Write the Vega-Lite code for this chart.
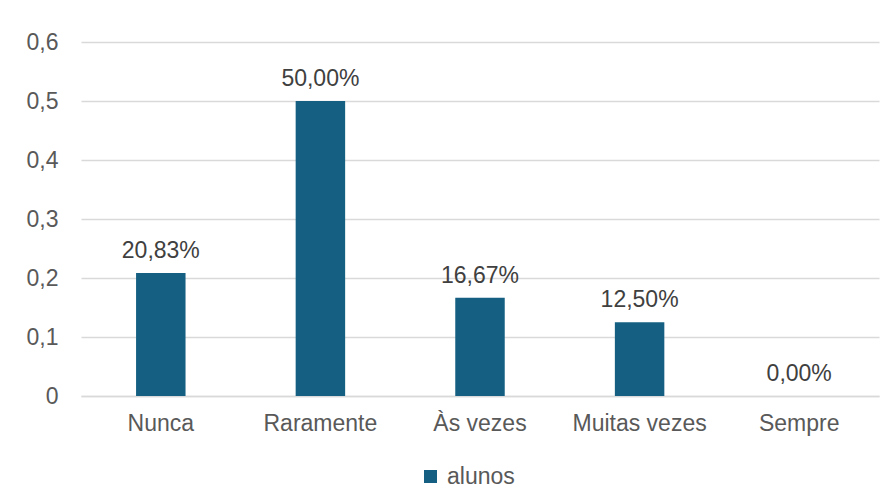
{
  "$schema": "https://vega.github.io/schema/vega-lite/v6.json",
  "autosize": "none",
  "width": 798,
  "height": 354,
  "padding": {"left": 81, "top": 42, "right": 17, "bottom": 108},
  "background": "white",
  "config": {
    "locale": {"number": {"decimal": ",", "thousands": ".", "grouping": [3], "currency": ["", " €"]}},
    "view": {"stroke": null},
    "font": "Liberation Sans",
    "text": {"font": "Liberation Sans"}
  },
  "data": {
    "values": [
      {"categoria": "Nunca", "valor": 0.2083, "serie": "alunos"},
      {"categoria": "Raramente", "valor": 0.5, "serie": "alunos"},
      {"categoria": "Às vezes", "valor": 0.1667, "serie": "alunos"},
      {"categoria": "Muitas vezes", "valor": 0.125, "serie": "alunos"},
      {"categoria": "Sempre", "valor": 0.0, "serie": "alunos"}
    ]
  },
  "encoding": {
    "x": {
      "field": "categoria",
      "type": "nominal",
      "sort": null,
      "scale": {"paddingInner": 0, "paddingOuter": 0},
      "axis": {
        "title": null,
        "labelAngle": 0,
        "labelFont": "Liberation Sans",
        "labelFontSize": 23,
        "labelColor": "#595959",
        "labelPadding": 16,
        "ticks": false,
        "domainColor": "#D9D9D9",
        "domainWidth": 1.5,
        "grid": false
      }
    },
    "y": {
      "field": "valor",
      "type": "quantitative",
      "scale": {"domain": [0, 0.6], "nice": false},
      "axis": {
        "title": null,
        "values": [0, 0.1, 0.2, 0.3, 0.4, 0.5, 0.6],
        "format": ".1f",
        "labelExpr": "datum.value == 0 ? '0' : datum.label",
        "labelFont": "Liberation Sans",
        "labelFontSize": 23,
        "labelColor": "#595959",
        "labelPadding": 23,
        "ticks": false,
        "domain": false,
        "grid": true,
        "gridColor": "#D9D9D9",
        "gridWidth": 1.5
      }
    }
  },
  "layer": [
    {
      "mark": {"type": "bar", "width": {"band": 0.31}},
      "encoding": {
        "color": {
          "field": "serie",
          "type": "nominal",
          "scale": {"range": ["#156082"]},
          "legend": {
            "title": null,
            "orient": "none",
            "legendX": 338,
            "legendY": 423,
            "padding": 0,
            "symbolType": "square",
            "symbolSize": 169,
            "symbolStrokeWidth": 0,
            "labelFont": "Liberation Sans",
            "labelFontSize": 23,
            "labelColor": "#595959",
            "labelOffset": 5
          }
        }
      }
    },
    {
      "mark": {"type": "text", "baseline": "alphabetic", "dy": -15, "font": "Liberation Sans", "fontSize": 23, "color": "#404040"},
      "encoding": {
        "text": {"field": "valor", "type": "quantitative", "format": ".2%"}
      }
    }
  ]
}
